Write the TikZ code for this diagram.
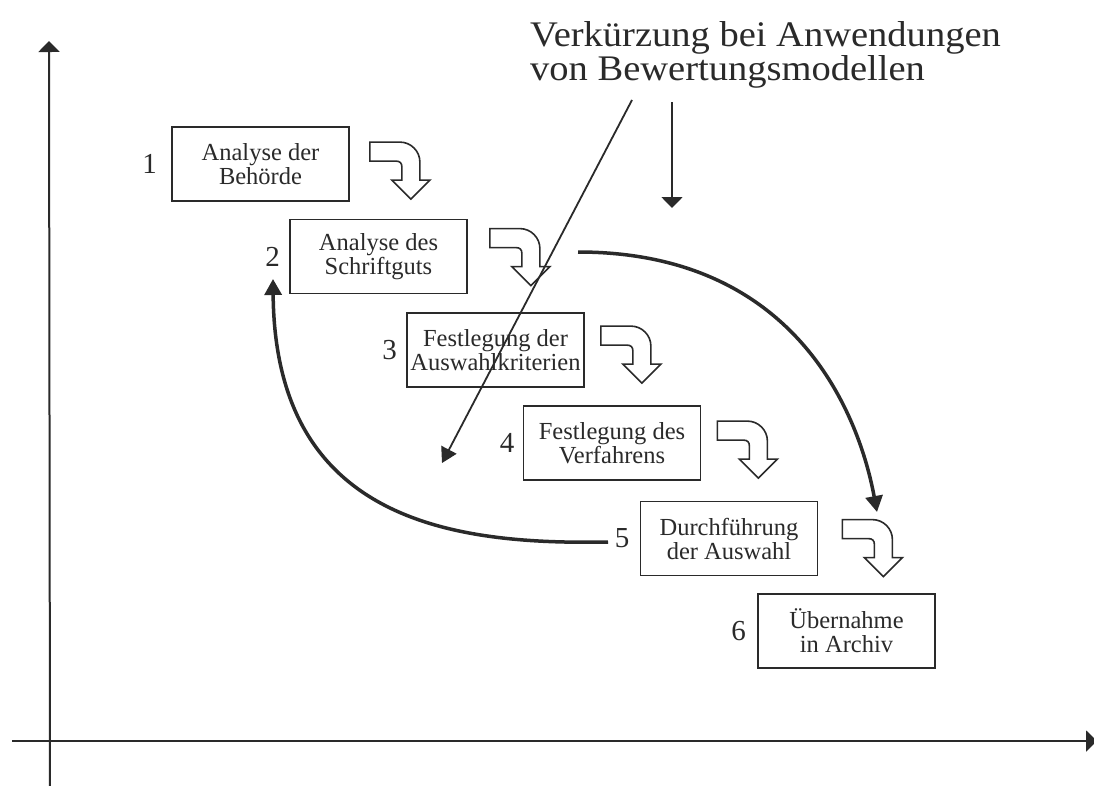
\documentclass[tikz,border=0pt]{standalone}
\usepackage{fontspec}
\setmainfont{Liberation Serif}
\newfontfamily\titlefont{Liberation Serif}[FakeStretch=1.07]
\usetikzlibrary{arrows.meta,calc}
\definecolor{ink}{HTML}{2A2A2A}
\tikzset{
  axis/.style={draw=ink, line width=2pt, -{Triangle[length=11pt,width=21pt]}},
  stepbox/.style={draw=ink, line width=1.8pt, minimum width=177pt, minimum height=74pt,
    inner sep=0pt, align=center, text=ink, font=\fontsize{24.5}{24}\selectfont},
  num/.style={text=ink, font=\fontsize{29}{29}\selectfont, inner sep=0pt, anchor=east},
  ttl/.style={text=ink, font=\titlefont\fontsize{36}{36}\selectfont, inner sep=0pt, anchor=base west},
  bigarrow/.style={draw=ink, line width=3.5pt, -{Triangle[length=16pt,width=17pt]}},
  thinarrow/.style={draw=ink, line width=1.8pt},
  hollowarrow/.pic={
    \draw[draw=ink, line width=1.6pt, fill=white, line join=miter]
      (0,0) -- (30,0) .. controls (41,0) and (50,9) .. (50,20) -- (50,38) -- (60,38)
      -- (41,57) -- (22,38) -- (32,38) -- (32,25) .. controls (32,21) and (30,19) .. (26,19)
      -- (0,19) -- cycle;
  }
}
\begin{document}
\begin{tikzpicture}[x=1pt,y=-1pt]
\useasboundingbox (0,0) rectangle (1094,785);
\clip (0,0) rectangle (1094,785);
\fill[white] (0,0) rectangle (1094,785);

% axes
\coordinate (ybot) at (50,790);
\coordinate (ytop) at (49,41);
\coordinate (xl) at (12,741);
\coordinate (xr) at (1097,741);
\draw[axis] (ybot) -- (ytop);
\draw[axis] (xl) -- (xr);

% boxes
\node[stepbox] (b1) at (260.5,164) {Analyse der\\Behörde};
\node[stepbox] (b2) at (378.5,256.5) {Analyse des\\Schriftguts};
\node[stepbox] (b3) at (495.5,350) {Festlegung der\\Auswahlkriterien};
\node[stepbox] (b4) at (612,443) {Festlegung des\\Verfahrens};
\node[stepbox] (b5) at (729,538.5) {Durchführung\\der Auswahl};
\node[stepbox] (b6) at (846.5,631) {Übernahme\\in Archiv};

% numbers
\node[num] (n1) at ([xshift=-14pt]b1.west) {1};
\node[num] (n2) at ([xshift=-9pt]b2.west) {2};
\node[num] (n3) at ([xshift=-9pt]b3.west) {3};
\node[num] (n4) at ([xshift=-8pt]b4.west) {4};
\node[num] (n5) at ([xshift=-10pt]b5.west) {5};
\node[num] (n6) at ([xshift=-11pt]b6.west) {6};

% hollow bent arrows
\pic (h1) at ($(b1.north east)+(20,16)$) {hollowarrow};
\pic (h2) at ($(b2.north east)+(22,10)$) {hollowarrow};
\pic (h3) at ($(b3.north east)+(16,14)$) {hollowarrow};
\pic (h4) at ($(b4.north east)+(16,16)$) {hollowarrow};
\pic (h5) at ($(b5.north east)+(24,19)$) {hollowarrow};

% curved arrows
\coordinate (c1s) at (578,252);
\coordinate (c1e) at (877,512);
\draw[bigarrow] (c1s) .. controls (800,252) and (860,420) .. (c1e);
\coordinate (c2s) at (608,542);
\coordinate (c2e) at (273,279);
\draw[bigarrow] (c2s) .. controls (450,545) and (275,520) .. (c2e);

% title
\node[ttl] (t1) at (530,46) {Verkürzung bei Anwendungen};
\node[ttl] (t2) at (530,80) {von Bewertungsmodellen};

% straight arrows from title
\coordinate (d1s) at (632,100);
\coordinate (d1e) at (442,463);
\draw[thinarrow, -{Triangle[length=15pt,width=17pt]}] (d1s) -- (d1e);
\coordinate (v1s) at (672,102);
\coordinate (v1e) at (672,208);
\draw[thinarrow, -{Triangle[length=11pt,width=21pt]}] (v1s) -- (v1e);
\end{tikzpicture}
\end{document}
